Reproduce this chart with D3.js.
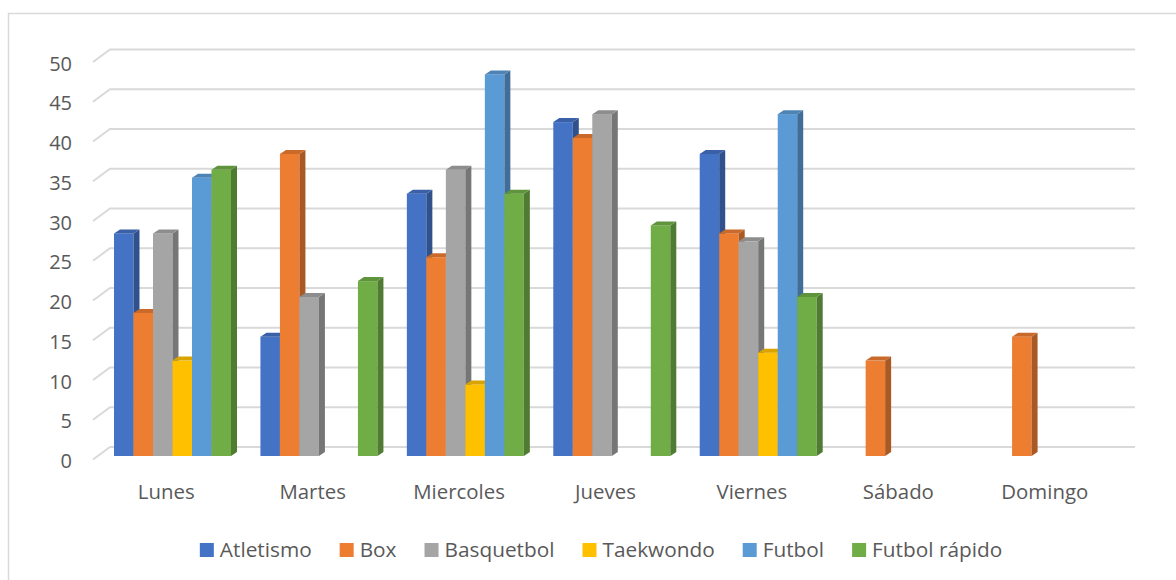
<!DOCTYPE html>
<html>
<head>
<meta charset="utf-8">
<script src="https://cdn.jsdelivr.net/npm/d3@7"></script>
<style>
  html, body { margin: 0; padding: 0; background: #fff; }
  svg { display: block; font-family: "Open Sans", "DejaVu Sans", sans-serif; }
</style>
</head>
<body>
<svg id="chart" width="1176" height="580"></svg>
<script>
const days = ["Lunes", "Martes", "Miercoles", "Jueves", "Viernes", "Sábado", "Domingo"];
const seriesNames = ["Atletismo", "Box", "Basquetbol", "Taekwondo", "Futbol", "Futbol rápido"];
const colors = ["#4472C4", "#ED7D31", "#A5A5A5", "#FFC000", "#5B9BD5", "#70AD47"];
const atletismo   = [28, 15, 33, 42, 38, 0, 0];
const box         = [18, 38, 25, 40, 28, 12, 15];
const basquetbol  = [28, 20, 36, 43, 27, 0, 0];
const taekwondo   = [12, 0, 9, 0, 13, 0, 0];
const futbol      = [35, 0, 48, 0, 43, 0, 0];
const futbolRapido= [36, 22, 33, 29, 20, 0, 0];
const yTicks = [0, 5, 10, 15, 20, 25, 30, 35, 40, 45, 50];

const seriesValues = [atletismo, box, basquetbol, taekwondo, futbol, futbolRapido];

const svg = d3.select("#chart");
const textColor = "#595959";
const gridColor = "#d9d9d9";

// outer border (left + top)
svg.append("path")
  .attr("d", "M8.5,580 L8.5,13.5 L1176,13.5")
  .attr("fill", "none").attr("stroke", gridColor).attr("stroke-width", 1.5);

// scales
const yFront = d3.scaleLinear().domain([0, 50]).range([459.5, 62]);
const yBack  = d3.scaleLinear().domain([0, 50]).range([447, 49.5]);
const yBar   = d3.scaleLinear().domain([0, 50]).range([456, 58.5]);
const xFront = d3.scaleBand().domain(days).range([93, 1118]);
const xBack0 = 110, xBack1 = 1135;
const xBars  = d3.scaleBand().domain(days).range([99.3, 1124.3]);
const xSeries = d3.scaleBand().domain(seriesNames).range([14.7, 131.7]);
const depthX = 6, depthY = 4;

// gridlines with diagonal floor-side segment
const grid = svg.append("g");
yTicks.forEach(t => {
  grid.append("path")
    .attr("d", `M93,${yFront(t)} L${xBack0},${yBack(t)} L${xBack1},${yBack(t)}`)
    .attr("fill", "none").attr("stroke", gridColor).attr("stroke-width", 2);
  svg.append("text")
    .attr("x", 72).attr("y", yFront(t) + 8.5)
    .attr("text-anchor", "end")
    .attr("font-size", 20).attr("fill", textColor)
    .text(t);
});

// bars
const barsG = svg.append("g");
days.forEach((day, di) => {
  seriesNames.forEach((s, si) => {
    const v = seriesValues[si][di];
    if (!v) return;
    const x0 = xBars(day) + xSeries(s);
    const x1 = x0 + xSeries.bandwidth();
    const yb = yBar(0), yt = yBar(v);
    const c = d3.color(colors[si]);
    const g = barsG.append("g");
    g.append("rect").attr("x", x0).attr("y", yt).attr("width", x1 - x0).attr("height", yb - yt)
      .attr("fill", colors[si]);
    g.append("path")
      .attr("d", `M${x1},${yt} L${x1 + depthX},${yt - depthY} L${x1 + depthX},${yb - depthY} L${x1},${yb} Z`)
      .attr("fill", c.darker(0.95).formatHex());
    g.append("path")
      .attr("d", `M${x0},${yt} L${x0 + depthX},${yt - depthY} L${x1 + depthX},${yt - depthY} L${x1},${yt} Z`)
      .attr("fill", c.darker(0.45).formatHex());
  });
});

// x labels
days.forEach(day => {
  svg.append("text")
    .attr("x", xFront(day) + xFront.bandwidth() / 2).attr("y", 499)
    .attr("text-anchor", "middle")
    .attr("font-size", 20.4).attr("fill", textColor)
    .text(day);
});

// legend
const legend = svg.append("g");
let lx = 0;
seriesNames.forEach((s, i) => {
  const it = legend.append("g");
  it.append("rect").attr("x", 0).attr("y", 543).attr("width", 14).attr("height", 14).attr("fill", colors[i]);
  const t = it.append("text").attr("x", 20).attr("y", 557)
    .attr("font-size", 20.8).attr("fill", textColor).text(s);
  const w = t.node().getComputedTextLength();
  it.attr("transform", `translate(${lx},0)`);
  lx += 20 + w + 28;
});
const total = lx - 28;
legend.attr("transform", `translate(${601 - total / 2},0)`);
</script>
</body>
</html>
